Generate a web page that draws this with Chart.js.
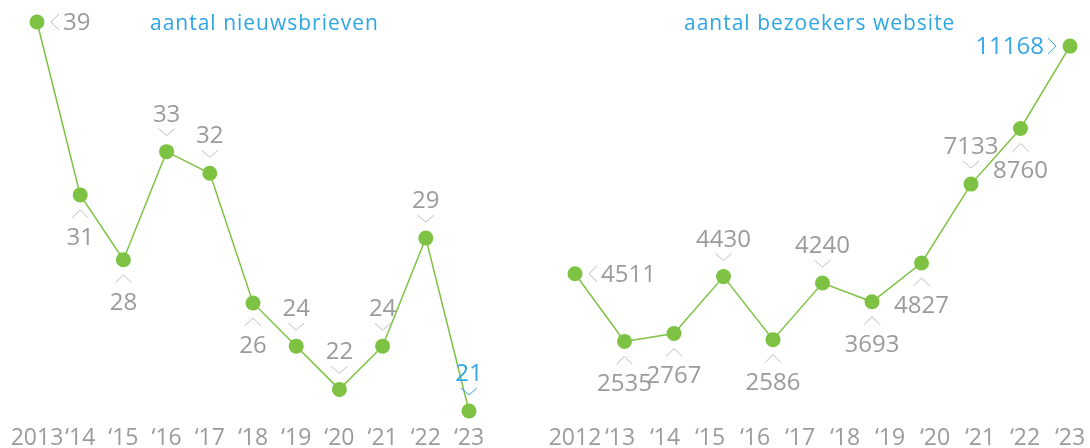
<!DOCTYPE html>
<html lang="nl">
<head>
  <meta charset="UTF-8" />
  <title>Nieuwsbrieven en websitebezoekers</title>
  <script src="https://cdn.jsdelivr.net/npm/chart.js"></script>
  <style>
    html, body { margin: 0; padding: 0; background: #fff; }
    .wrap { position: relative; width: 1090px; height: 448px; overflow: hidden; }
    .box { position: absolute; top: 0; width: 545px; height: 448px; }
    #links { left: 0; }
    #rechts { left: 545px; }
    .titel {
      position: absolute;
      top: 12px;
      font-family: "Open Sans", sans-serif;
      font-size: 21px;
      line-height: 21px;
      letter-spacing: 1px;
      color: #2ea6e4;
      white-space: nowrap;
    }
  </style>
</head>
<body>
  <div class="wrap">
    <div class="box" id="links"><canvas id="brieven" width="545" height="448"></canvas></div>
    <div class="box" id="rechts"><canvas id="bezoekers" width="545" height="448"></canvas></div>
    <div class="titel" style="left:150px">aantal nieuwsbrieven</div>
    <div class="titel" style="left:684px">aantal bezoekers website</div>
  </div>

  <script>
    // nieuwsbrieven per jaar
    const jarenBrieven = ['2013', '‘14', '‘15', '‘16', '‘17', '‘18', '‘19', '‘20', '‘21', '‘22', '‘23'];
    const nieuwsbrieven = [39, 31, 28, 33, 32, 26, 24, 22, 24, 29, 21];
    const plaatsBrieven = ['r', 'b', 'b', 'a', 'a', 'b', 'a', 'a', 'a', 'a', 'a'];

    // bezoekers website (12 jaarlabels, 11 punten)
    const jarenBezoekers = ['2012', '‘13', '‘14', '‘15', '‘16', '‘17', '‘18', '‘19', '‘20', '‘21', '‘22', '‘23'];
    const bezoekers = [4511, 2535, 2767, 4430, 2586, 4240, 3693, 4827, 7133, 8760, 11168];
    const plaatsBezoekers = ['r', 'b', 'b', 'a', 'b', 'a', 'b', 'b', 'a', 'b', 'l'];
    const puntenBezoekers = bezoekers.map((_, i) => i);

    const GROEN = '#7dc242';
    const GRIJS = '#9b9b9b';
    const PIJL = '#bdbdbd';
    const BLAUW = '#36a6ea';

    Chart.defaults.font.family = '"Open Sans", sans-serif';

    // waarde + pijltje bij elk punt
    const puntLabels = {
      id: 'puntLabels',
      afterDatasetsDraw(chart, args, opts) {
        const ctx = chart.ctx;
        const meta = chart.getDatasetMeta(0);
        const waarden = chart.data.datasets[0].data;
        ctx.save();
        ctx.font = '24px "Open Sans"';
        ctx.lineWidth = 1;
        ctx.textBaseline = 'alphabetic';
        meta.data.forEach((pt, i) => {
          const x = pt.x, y = pt.y;
          const laatste = i === waarden.length - 1;
          ctx.fillStyle = laatste ? BLAUW : GRIJS;
          ctx.strokeStyle = laatste ? BLAUW : PIJL;
          const tekst = String(waarden[i]);
          const p = opts.plaats[i];
          ctx.beginPath();
          if (p === 'a') {
            ctx.moveTo(x - 8, y - 23); ctx.lineTo(x, y - 16); ctx.lineTo(x + 8, y - 23);
            ctx.textAlign = 'center';
            ctx.fillText(tekst, x, y - 30);
          } else if (p === 'b') {
            ctx.moveTo(x - 8, y + 23); ctx.lineTo(x, y + 15); ctx.lineTo(x + 8, y + 23);
            ctx.textAlign = 'center';
            ctx.fillText(tekst, x, y + 50);
          } else if (p === 'r') {
            ctx.moveTo(x + 22, y - 8); ctx.lineTo(x + 14, y); ctx.lineTo(x + 22, y + 8);
            ctx.textAlign = 'left';
            ctx.fillText(tekst, x + 26, y + 8);
          } else {
            ctx.moveTo(x - 22, y - 8); ctx.lineTo(x - 14, y); ctx.lineTo(x - 22, y + 8);
            ctx.textAlign = 'right';
            ctx.fillText(tekst, x - 26, y + 8);
          }
          ctx.stroke();
        });
        ctx.restore();
      }
    };

    const tickStijl = {
      color: GRIJS,
      font: { size: 23 },
      padding: 14,
      autoSkip: false,
      maxRotation: 0
    };

    // vaste hoogte, geen extra zijmarge voor de randlabels
    function asPassen(s) {
      s.height = 37;
      s.paddingLeft = 0;
      s.paddingRight = 0;
    }

    function lijnSet(data, as) {
      return {
        data: data,
        xAxisID: as,
        borderColor: GROEN,
        borderWidth: 1.5,
        pointBackgroundColor: GROEN,
        pointBorderWidth: 0,
        pointRadius: 7.5,
        pointHoverRadius: 7.5,
        tension: 0,
        clip: false
      };
    }

    new Chart(document.getElementById('brieven'), {
      type: 'line',
      data: { labels: jarenBrieven, datasets: [lijnSet(nieuwsbrieven, 'x')] },
      options: {
        responsive: false,
        animation: false,
        events: [],
        layout: { padding: { left: 37, right: 76, top: 22, bottom: 0 } },
        plugins: {
          legend: { display: false },
          tooltip: { enabled: false },
          puntLabels: { plaats: plaatsBrieven }
        },
        scales: {
          x: {
            grid: { display: false, drawTicks: false },
            border: { display: false },
            ticks: tickStijl,
            afterFit: asPassen
          },
          y: { display: false, min: 21, max: 39 }
        }
      },
      plugins: [puntLabels]
    });

    new Chart(document.getElementById('bezoekers'), {
      type: 'line',
      data: { labels: puntenBezoekers, datasets: [lijnSet(bezoekers, 'x')] },
      options: {
        responsive: false,
        animation: false,
        events: [],
        layout: { padding: { left: 30, right: 20, top: 45, bottom: 0 } },
        plugins: {
          legend: { display: false },
          tooltip: { enabled: false },
          puntLabels: { plaats: plaatsBezoekers }
        },
        scales: {
          x: { display: false },
          jaren: {
            type: 'category',
            position: 'bottom',
            labels: jarenBezoekers,
            grid: { display: false, drawTicks: false },
            border: { display: false },
            ticks: tickStijl,
            afterFit: asPassen
          },
          y: { display: false, min: 500, max: 11200 }
        }
      },
      plugins: [puntLabels]
    });
  </script>
</body>
</html>
